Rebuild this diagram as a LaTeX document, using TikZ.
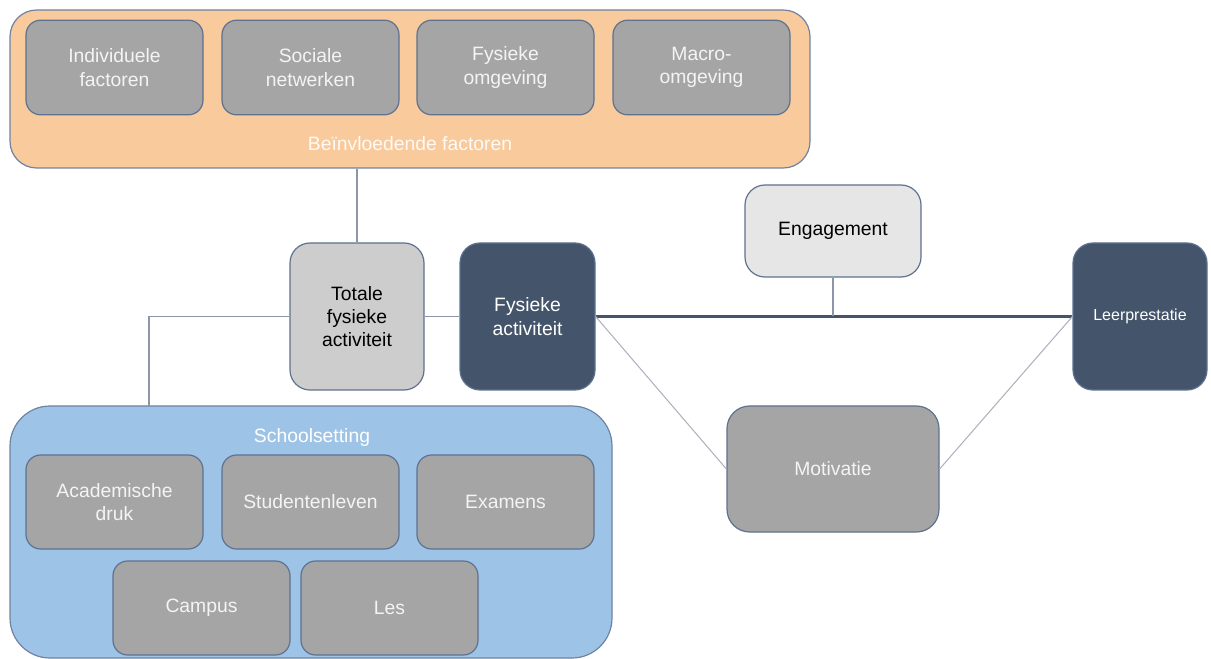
\documentclass[tikz,border=0pt]{standalone}
\usepackage{fontspec}
\setmainfont{Liberation Sans}
\definecolor{orangefill}{HTML}{F8CA9C}
\definecolor{slateline}{HTML}{6F83A3}
\definecolor{boxgray}{HTML}{A5A5A5}
\definecolor{boxline}{HTML}{5E7290}
\definecolor{lightgray}{HTML}{CDCDCD}
\definecolor{darkslate}{HTML}{44546A}
\definecolor{enggray}{HTML}{E7E6E6}
\definecolor{bluefill}{HTML}{9DC3E6}
\definecolor{connline}{HTML}{8C96A8}
\definecolor{diagline}{HTML}{AEB3BD}
\definecolor{offwhite}{HTML}{F4F4F4}
\tikzset{
  base/.style={draw=boxline, line width=0.9pt, align=center, inner sep=2pt,
    font=\fontsize{14.5}{17.5}\selectfont},
  graybox/.style={base, fill=boxgray, text=offwhite, rounded corners=11pt,
    minimum width=132.75pt, minimum height=71pt},
  tallbox/.style={base, rounded corners=15pt, minimum width=100.5pt, minimum height=110.25pt},
  container/.style={draw=slateline, line width=0.9pt},
  conn/.style={draw=connline, line width=0.8pt},
  diag/.style={draw=diagline, line width=0.8pt},
  thickconn/.style={draw=darkslate, line width=2.2pt},
  lbl/.style={font=\fontsize{14.5}{17.5}\selectfont, text=white, inner sep=0pt}
}
\begin{document}
\begin{tikzpicture}[x=0.75pt, y=-0.75pt]
\useasboundingbox (0,0) rectangle (1211,659);

% containers
\node[container, fill=orangefill, rounded corners=20pt, minimum width=600pt, minimum height=118.5pt] (orange) at (410,89) {};
\node[lbl, text=white!96!orange] (infl) at (410,144) {Beïnvloedende factoren};
\node[container, fill=bluefill, rounded corners=30pt, minimum width=451.5pt, minimum height=189pt] (school) at (311,532) {};
\node[lbl] (schoollbl) at (312,438) {Schoolsetting};

\coordinate (schooltop) at (149,406);

% boxes
\node[graybox] (indiv) at (114.5,67.5) {Individuele\\factoren};
\node[graybox] (soc) at (310.5,67.5) {Sociale\\netwerken};
\node[graybox] (fysomg) at (505.5,67.5) {Fysieke\\omgeving};
\node[graybox] (macro) at (701.5,67.5) {Macro-\\omgeving};

\node[tallbox, fill=lightgray, text=black] (tot) at (357,316.5) {Totale\\fysieke\\activiteit};
\node[tallbox, fill=darkslate, text=white, minimum width=101.25pt] (fys) at (527.5,316.5) {Fysieke\\activiteit};
\node[tallbox, fill=darkslate, text=white, font=\fontsize{12}{14}\selectfont] (leer) at (1140,316.5) {Leerprestatie};
\node[base, fill=enggray, text=black, rounded corners=15pt, minimum width=132pt, minimum height=69pt] (eng) at (833,231) {Engagement};
\node[base, fill=boxgray, text=offwhite, rounded corners=17pt, minimum width=159pt, minimum height=94.5pt] (mot) at (833,469) {Motivatie};

\node[graybox, minimum height=70.5pt] (acad) at (114.5,502) {Academische\\druk};
\node[graybox, minimum height=70.5pt] (stud) at (310.5,502) {Studentenleven};
\node[graybox, minimum height=70.5pt] (exam) at (505.5,502) {Examens};
\node[graybox, minimum height=70.5pt] (camp) at (201.5,608) {Campus};
\node[graybox, minimum height=70.5pt] (les) at (389.5,608) {Les};

% connectors
\draw[conn] (orange.south -| tot.north) -- (tot.north);
\draw[conn] (tot.east) -- (fys.west);
\draw[conn] (tot.west) -| (schooltop);
\draw[thickconn] (fys.east) -- (leer.west);
\draw[conn] (eng.south) -- (eng.south |- fys.east);
\draw[diag] (fys.east) -- (mot.west);
\draw[diag] (mot.east) -- (leer.west);
\end{tikzpicture}
\end{document}
